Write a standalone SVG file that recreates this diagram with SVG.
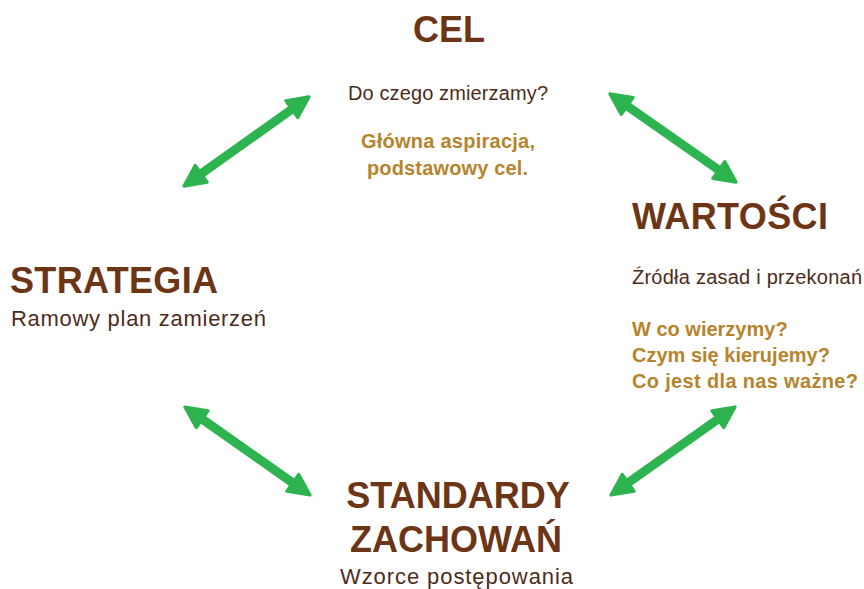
<svg xmlns="http://www.w3.org/2000/svg" width="864" height="589" viewBox="0 0 864 589">
<style>
text{font-family:"Liberation Sans",Arial,sans-serif}
.t{font-size:36px;font-weight:bold;fill:#6b3516}
.s{font-size:20px;fill:#4e2c1a}
.g{font-size:20px;font-weight:bold;fill:#b6842c}
.c line{stroke:#2db34f;stroke-width:9;fill:none}
</style>
<defs>
<marker id="ah" viewBox="0 0 10 10" refX="4" refY="5" markerWidth="27" markerHeight="27" markerUnits="userSpaceOnUse" orient="auto-start-reverse">
<path d="M1.2,1.2 L9,5 L1.2,8.8 Z" fill="#2db34f" stroke="#2db34f" stroke-width="1.2" stroke-linejoin="round"/>
</marker>
</defs>
<rect width="864" height="589" fill="#ffffff"/>
<g id="connectors" class="c">
<line x1="195" y1="178.2" x2="298" y2="104.8" marker-start="url(#ah)" marker-end="url(#ah)"/>
<line x1="621" y1="101.6" x2="725" y2="174.4" marker-start="url(#ah)" marker-end="url(#ah)"/>
<line x1="196" y1="414.8" x2="299" y2="487.2" marker-start="url(#ah)" marker-end="url(#ah)"/>
<line x1="724" y1="414.8" x2="622" y2="487.2" marker-start="url(#ah)" marker-end="url(#ah)"/>
</g>
<g id="cel">
<text class="t" x="449" y="42" text-anchor="middle">CEL</text>
<text class="s" x="348" y="100" textLength="200">Do czego zmierzamy?</text>
<text class="g" x="361" y="148" textLength="174">Główna aspiracja,</text>
<text class="g" x="367" y="175" textLength="161">podstawowy cel.</text>
</g>
<g id="wartosci">
<text class="t" x="632" y="229" textLength="196">WARTOŚCI</text>
<text class="s" x="632" y="284" textLength="230">Źródła zasad i przekonań</text>
<text class="g" x="632" y="336">W co wierzymy?</text>
<text class="g" x="632" y="362">Czym się kierujemy?</text>
<text class="g" x="632" y="388" textLength="226">Co jest dla nas ważne?</text>
</g>
<g id="strategia">
<text class="t" x="10" y="293" textLength="208">STRATEGIA</text>
<text class="s" x="11" y="326" style="font-size:22px" textLength="255">Ramowy plan zamierzeń</text>
</g>
<g id="standardy">
<text class="t" x="458" y="508" text-anchor="middle">STANDARDY</text>
<text class="t" x="456" y="552" text-anchor="middle">ZACHOWAŃ</text>
<text class="s" x="340" y="584" style="font-size:22px" textLength="233">Wzorce postępowania</text>
</g>
</svg>
